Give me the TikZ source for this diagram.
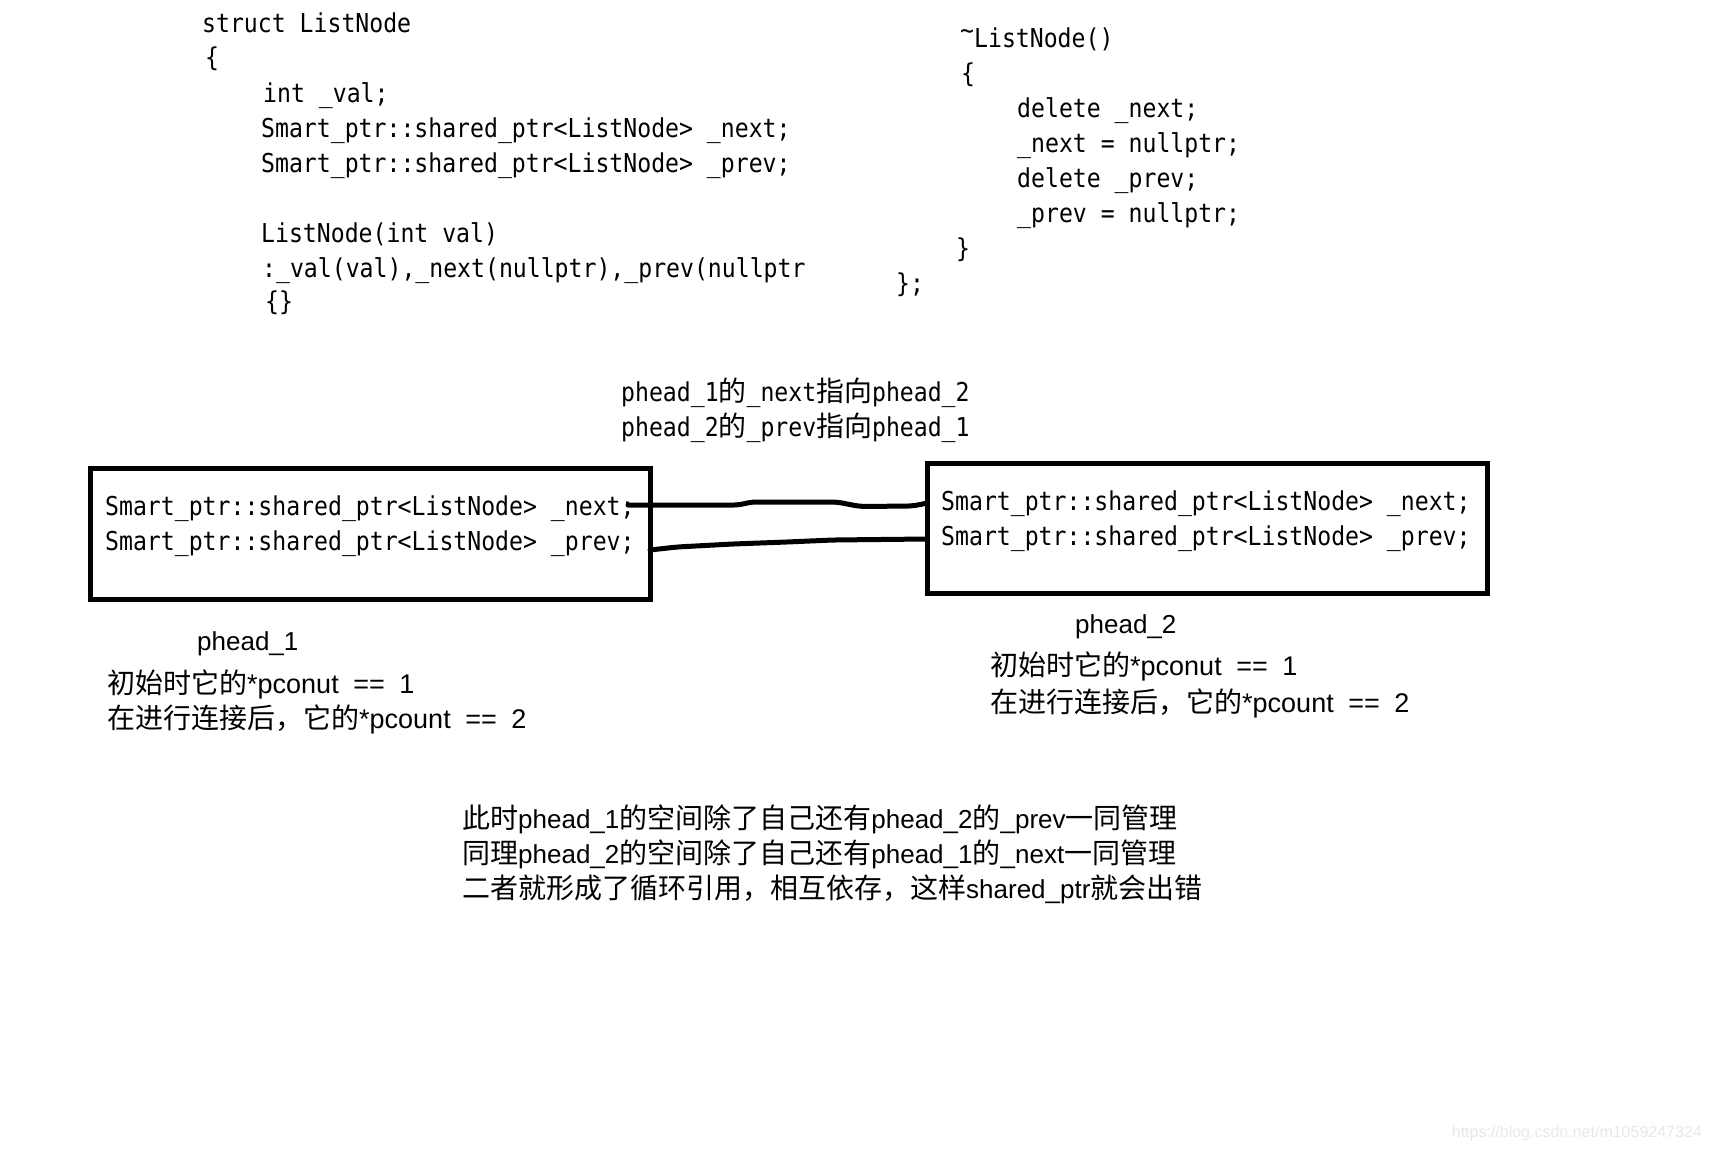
\documentclass[tikz,border=0pt]{standalone}
\usepackage{fontspec}
\setmainfont{Liberation Sans}
\newfontfamily\codefont[FakeStretch=0.89]{DejaVu Sans Mono}
\newfontfamily\cjkfont{Noto Sans CJK SC}
\newcommand\zh[1]{{\cjkfont\fontsize{28}{32}\selectfont #1}}
\newcommand\zhc[1]{{\cjkfont\fontsize{27.9}{32}\selectfont #1}}
\newcommand\gap{\hspace{14.5pt}}
\usetikzlibrary{calc}
\begin{document}
\begin{tikzpicture}[x=1pt,y=-1pt,
  code/.style={anchor=base west, inner sep=0pt, font=\codefont\fontsize{26}{30}\selectfont},
  note/.style={anchor=base west, inner sep=0pt, font=\fontsize{26}{30}\selectfont},
  cnt/.style={anchor=base west, inner sep=0pt, font=\fontsize{27}{30}\selectfont},
  membox/.style={draw, line width=5pt, rectangle, inner sep=0pt, outer sep=0pt, minimum width=560pt},
  wire/.style={line width=5pt, line cap=round, line join=round, rounded corners=6pt}]

\fill[white] (0,0) rectangle (1711,1151);
\useasboundingbox (0,0) rectangle (1711,1151);

% struct definition
\node[code] (s1) at (202,32) {struct ListNode};
\node[code] (s2) at (205,66) {\{};
\node[code] (s3) at (263,102) {int \_val;};
\node[code] (s4) at (261,137) {Smart\_ptr::shared\_ptr<ListNode> \_next;};
\node[code] (s5) at (261,172) {Smart\_ptr::shared\_ptr<ListNode> \_prev;};
\node[code] (s6) at (261,242) {ListNode(int val)};
\node[code] (s7) at (262,277) {:\_val(val),\_next(nullptr),\_prev(nullptr};
\node[code] (s8) at (265,310) {\{\}};

% destructor
\node[code] (d1) at (960,47) {\raisebox{.3em}{\textasciitilde}ListNode()};
\node[code] (d2) at (961,82) {\{};
\node[code] (d3) at (1017,117) {delete \_next;};
\node[code] (d4) at (1017,152) {\_next = nullptr;};
\node[code] (d5) at (1017,187) {delete \_prev;};
\node[code] (d6) at (1017,222) {\_prev = nullptr;};
\node[code] (d7) at (956,257) {\}};
\node[code] (d8) at (896,292) {\};};

% link label
\node[code] (lab1) at (621,401) {phead\_1\zhc{的}\_next\zhc{指向}phead\_2};
\node[code] (lab2) at (621,436) {phead\_2\zhc{的}\_prev\zhc{指向}phead\_1};

% boxes
\node[membox, minimum height=131pt] (b1) at (370,534) {};
\node[membox, minimum height=130pt] (b2) at (1207.5,528.5) {};

\node[code] (b1n) at (105,515) {Smart\_ptr::shared\_ptr<ListNode> \_next;};
\node[code] (b1p) at (105,550) {Smart\_ptr::shared\_ptr<ListNode> \_prev;};
\node[code] (b2n) at (941,510) {Smart\_ptr::shared\_ptr<ListNode> \_next;};
\node[code] (b2p) at (941,545) {Smart\_ptr::shared\_ptr<ListNode> \_prev;};

% connectors
\draw[wire] ([xshift=-22pt,yshift=29pt]b1.east) -- (740,505) -- (750,502) -- (837,502) -- (860,506.5) -- (913,506) -- ([yshift=25.5pt]b2.west);
\draw[wire] ([yshift=-16pt]b1.east) -- (677,547) -- (733,544) -- (787,542) -- (833,540) -- ([yshift=-10.5pt]b2.west);

% labels under boxes
\node[note] (p1) at (197,650) {phead\_1};
\node[cnt] (c1a) at (107,693) {\zh{初始时它的}*pconut\gap==\gap1};
\node[cnt] (c1b) at (107,728) {\zh{在进行连接后，它的}*pcount\gap==\gap2};
\node[note] (p2) at (1075,633) {phead\_2};
\node[cnt] (c2a) at (990,675) {\zh{初始时它的}*pconut\gap==\gap1};
\node[cnt] (c2b) at (990,712) {\zh{在进行连接后，它的}*pcount\gap==\gap2};

% explanation
\node[note] (m1) at (462,828) {\zh{此时}phead\_1\zh{的空间除了自己还有}phead\_2\zh{的}\_prev\zh{一同管理}};
\node[note] (m2) at (462,863) {\zh{同理}phead\_2\zh{的空间除了自己还有}phead\_1\zh{的}\_next\zh{一同管理}};
\node[note] (m3) at (462,898) {\zh{二者就形成了循环引用，相互依存，这样}shared\_ptr\zh{就会出错}};

% watermark
\node[anchor=base east, inner sep=0pt, font=\fontsize{16}{18}\selectfont, text=black!9] (wm) at (1702,1137) {https://blog.csdn.net/m1059247324};
\end{tikzpicture}
\end{document}
